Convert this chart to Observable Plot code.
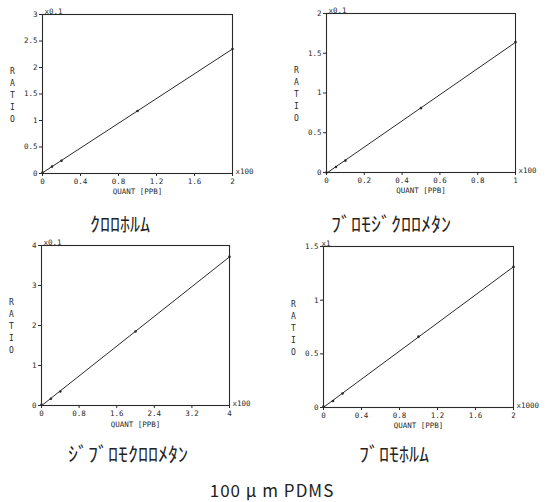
<!DOCTYPE html>
<html><head><meta charset="utf-8">
<script src="https://cdn.jsdelivr.net/npm/d3@7"></script>
<script src="https://cdn.jsdelivr.net/npm/@observablehq/plot@0.6"></script>
<style>
body{margin:0;background:#fff;}
#wrap{position:relative;width:549px;height:502px;overflow:hidden;background:#fff;}
.panel{position:absolute;}
.ttl{position:absolute;transform:translateX(-50%);white-space:nowrap;font-family:"Noto Sans CJK JP";color:#222;}
</style></head>
<body><div id="wrap"></div>
<script>
// Chloroform
const p1X = [0, 0.1, 0.2, 1, 2];
const p1Y = [0.02, 0.13, 0.24, 1.18, 2.35];
const p1XTicks = [0, 0.4, 0.8, 1.2, 1.6, 2];
const p1YTicks = [0, 0.5, 1, 1.5, 2, 2.5, 3];
// Bromodichloromethane
const p2X = [0, 0.05, 0.1, 0.5, 1];
const p2Y = [0, 0.07, 0.15, 0.81, 1.64];
const p2XTicks = [0, 0.2, 0.4, 0.6, 0.8, 1];
const p2YTicks = [0, 0.5, 1, 1.5, 2];
// Dibromochloromethane
const p3X = [0, 0.2, 0.4, 2, 4];
const p3Y = [0.02, 0.17, 0.35, 1.85, 3.72];
const p3XTicks = [0, 0.8, 1.6, 2.4, 3.2, 4];
const p3YTicks = [0, 1, 2, 3, 4];
// Bromoform
const p4X = [0, 0.1, 0.2, 1, 2];
const p4Y = [0.01, 0.06, 0.13, 0.66, 1.31];
const p4XTicks = [0, 0.4, 0.8, 1.2, 1.6, 2];
const p4YTicks = [0, 0.5, 1, 1.5];

const titles = ["ｸﾛﾛﾎﾙﾑ", "ﾌﾞﾛﾓｼﾞｸﾛﾛﾒﾀﾝ", "ｼﾞﾌﾞﾛﾓｸﾛﾛﾒﾀﾝ", "ﾌﾞﾛﾓﾎﾙﾑ"];
const xMult = ["x100", "x100", "x100", "x1000"];
const yMult = ["x0.1", "x0.1", "x0.1", "x1"];
const caption = "100 μ m PDMS";
const yLabel = "RATIO";
const xLabel = "QUANT [PPB]";

const ink = "#2a2a2a";
const wrap = document.getElementById("wrap");

function panel(xs, ys, xt, yt, xm, ym, box) {
  const data = xs.map((x, i) => ({x, y: ys[i]}));
  const p = Plot.plot({
    width: box.w, height: box.h,
    marginLeft: box.ml, marginRight: box.mr, marginTop: box.mt, marginBottom: box.mb,
    style: {fontFamily: "DejaVu Sans Mono", fontSize: "7.5px", color: ink, background: "transparent", overflow: "visible"},
    x: {domain: [xt[0], xt[xt.length - 1]]},
    y: {domain: [yt[0], yt[yt.length - 1]]},
    marks: [
      Plot.frame({stroke: ink, strokeWidth: 1.1}),
      Plot.axisX({ticks: xt, tickFormat: d => String(d), tickSize: 3, tickPadding: 2, label: null, stroke: ink}),
      Plot.axisY({ticks: yt, tickFormat: d => String(d), tickSize: 3, tickPadding: 2, label: null, stroke: ink}),
      Plot.linearRegressionY(data, {x: "x", y: "y", ci: 0, stroke: ink, strokeWidth: 1}),
      Plot.dot(data, {x: "x", y: "y", r: 1.3, fill: ink}),
      Plot.text([xLabel], {frameAnchor: "bottom", dy: box.xldy, fontSize: 7.5, fill: ink}),
      Plot.text([yLabel.split("").join("\n")], {frameAnchor: "left", dx: -30, textAnchor: "middle", lineHeight: 1.5, fontSize: 8, fill: ink}),
      Plot.text([xm], {frameAnchor: "bottom-right", dx: 3, textAnchor: "start", fontSize: 7.5, fill: ink}),
      Plot.text([ym], {frameAnchor: "top-left", dx: box.ymdx, dy: -6, textAnchor: "start", fontSize: 7.5, fill: ink})
    ]
  });
  const d = document.createElement("div");
  d.className = "panel";
  d.style.left = box.left + "px";
  d.style.top = box.top + "px";
  d.appendChild(p);
  wrap.appendChild(d);
}

panel(p1X, p1Y, p1XTicks, p1YTicks, xMult[0], yMult[0], {left: 0, top: 0, w: 275, h: 200, ml: 42, mr: 43, mt: 14, mb: 27, ymdx: 2, xldy: 20});
panel(p2X, p2Y, p2XTicks, p2YTicks, xMult[1], yMult[1], {left: 275, top: 0, w: 274, h: 200, ml: 51, mr: 34, mt: 13, mb: 28, ymdx: 2, xldy: 20});
panel(p3X, p3Y, p3XTicks, p3YTicks, xMult[2], yMult[2], {left: 0, top: 230, w: 275, h: 200, ml: 41, mr: 46, mt: 15, mb: 25, ymdx: 2, xldy: 21});
panel(p4X, p4Y, p4XTicks, p4YTicks, xMult[3], yMult[3], {left: 275, top: 230, w: 274, h: 200, ml: 48, mr: 36, mt: 16, mb: 23, ymdx: -2, xldy: 20});

const tpos = [[120, 213], [391, 213], [128, 443], [394, 443]];
titles.forEach((t, i) => {
  const d = document.createElement("div");
  d.className = "ttl";
  d.textContent = t;
  d.style.left = tpos[i][0] + "px";
  d.style.top = tpos[i][1] + "px";
  d.style.fontSize = "20px";
  d.style.lineHeight = "22px";
  wrap.appendChild(d);
});
const c = document.createElement("div");
c.className = "ttl";
c.textContent = caption;
c.style.left = "272px";
c.style.top = "480px";
c.style.fontSize = "17px";
c.style.letterSpacing = "1px";
c.style.lineHeight = "20px";
wrap.appendChild(c);
</script></body></html>
